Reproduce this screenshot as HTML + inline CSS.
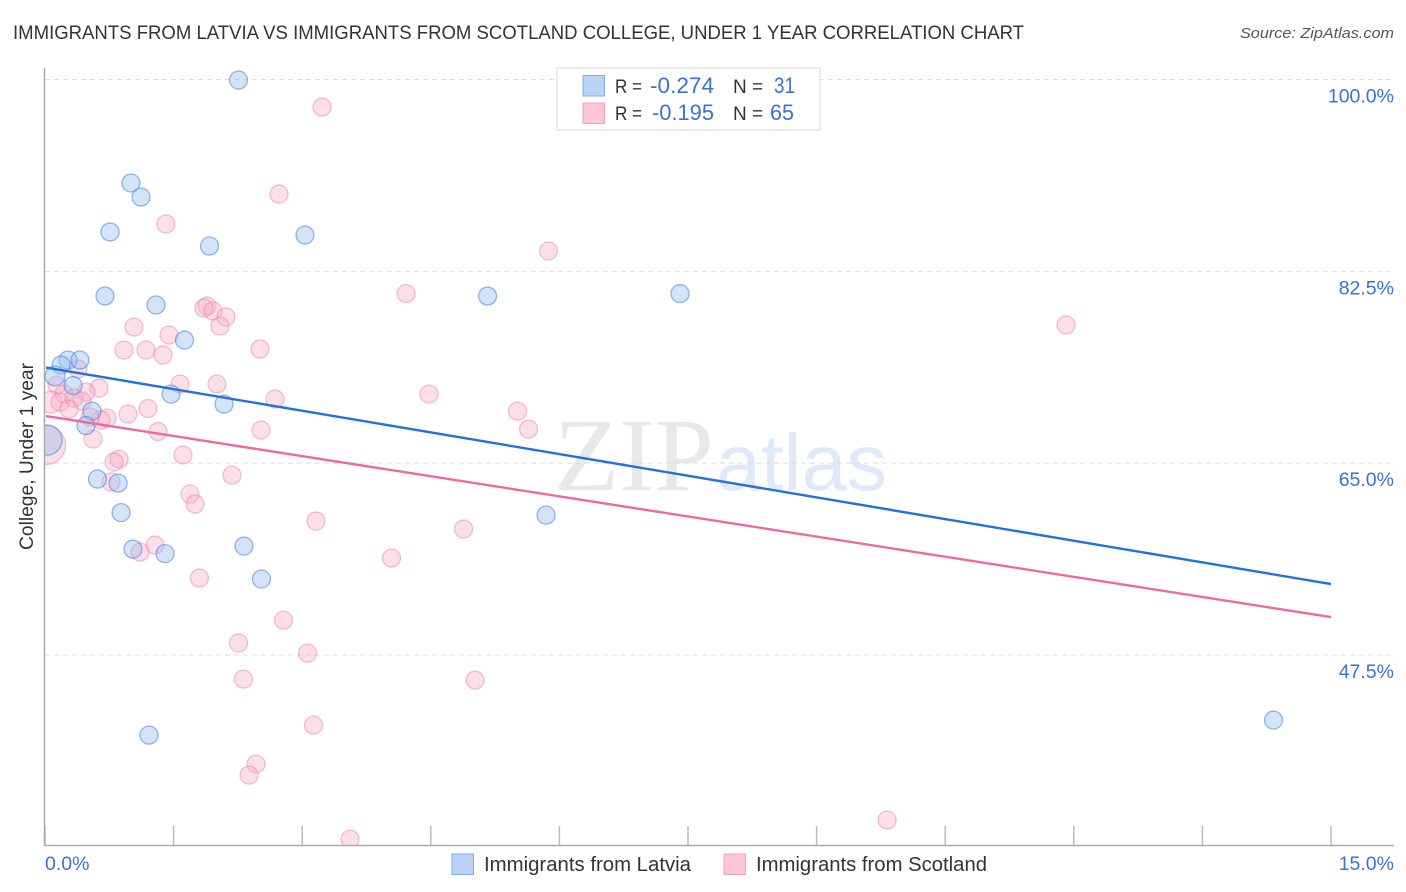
<!DOCTYPE html>
<html lang="en">
<head>
<meta charset="utf-8">
<title>Immigrants from Latvia vs Immigrants from Scotland College, Under 1 Year Correlation Chart</title>
<style>
html,body{margin:0;padding:0;background:#fff;width:1406px;height:892px;overflow:hidden}
svg{display:block}
text{font-family:"Liberation Sans",sans-serif}
</style>
</head>
<body>
<svg id="chart" xmlns="http://www.w3.org/2000/svg" width="1406" height="892" viewBox="0 0 1406 892">
  <defs>
    <clipPath id="plot-clip"><rect x="45" y="68" width="1349" height="778"/></clipPath>
  </defs>
  <text x="13" y="39" font-size="19.5" fill="#333" textLength="1011" lengthAdjust="spacingAndGlyphs">IMMIGRANTS FROM LATVIA VS IMMIGRANTS FROM SCOTLAND COLLEGE, UNDER 1 YEAR CORRELATION CHART</text>
  <text x="1394" y="38" font-size="15" font-style="italic" fill="#555" text-anchor="end" textLength="154" lengthAdjust="spacingAndGlyphs">Source: ZipAtlas.com</text>

  <g id="watermark">
    <text x="554" y="490" font-size="104" fill="#e8e8e8" style="font-family:'Liberation Serif',serif" textLength="160" lengthAdjust="spacingAndGlyphs">ZIP</text>
    <text x="716" y="490" font-size="80" fill="#dfe9f9" style="font-family:'Liberation Sans',sans-serif" textLength="171" lengthAdjust="spacingAndGlyphs">atlas</text>
  </g>

  <g id="grid"></g>
  <g id="marks" clip-path="url(#plot-clip)"></g>
  <rect x="0" y="60" width="44" height="800" fill="#fff"/>
  <rect x="0" y="846.5" width="1406" height="45.5" fill="#fff"/>
  <g id="trends"></g>
  <g id="axes"></g>

  <text transform="translate(33,550) rotate(-90)" font-size="19" fill="#333" textLength="187" lengthAdjust="spacingAndGlyphs">College, Under 1 year</text>

  <g>
    <rect x="557" y="68" width="263" height="62" fill="#fff" stroke="#d8d8d8" stroke-width="1"/>
    <rect x="583" y="75.5" width="21.5" height="20.5" fill="#b9d3f6" stroke="#7fabe8" stroke-width="1"/>
    <rect x="583" y="103" width="21.5" height="20.5" fill="#fcc6d8" stroke="#f0a0bc" stroke-width="1"/>
    <text x="615" y="93" font-size="19" fill="#333" textLength="27" lengthAdjust="spacingAndGlyphs">R =</text>
    <text x="650" y="93" font-size="22" fill="#3a73d0" textLength="64" lengthAdjust="spacingAndGlyphs">-0.274</text>
    <text x="733" y="93" font-size="19" fill="#333">N =</text>
    <text x="774" y="93" font-size="22" fill="#3a73d0" textLength="21" lengthAdjust="spacingAndGlyphs">31</text>
    <text x="615" y="120" font-size="19" fill="#333" textLength="27" lengthAdjust="spacingAndGlyphs">R =</text>
    <text x="652" y="120" font-size="22" fill="#3a73d0" textLength="62" lengthAdjust="spacingAndGlyphs">-0.195</text>
    <text x="733" y="120" font-size="19" fill="#333">N =</text>
    <text x="770" y="120" font-size="22" fill="#3a73d0" textLength="24" lengthAdjust="spacingAndGlyphs">65</text>
  </g>

  <g>
    <rect x="452" y="854" width="21.5" height="20.5" fill="#b9d3f6" stroke="#7fabe8" stroke-width="1"/>
    <text x="484" y="871" font-size="20" fill="#333" textLength="207" lengthAdjust="spacingAndGlyphs">Immigrants from Latvia</text>
    <rect x="724" y="854" width="21.5" height="20.5" fill="#fcc6d8" stroke="#f0a0bc" stroke-width="1"/>
    <text x="756" y="871" font-size="20" fill="#333" textLength="231" lengthAdjust="spacingAndGlyphs">Immigrants from Scotland</text>
  </g>
</svg>
<script>
const yGridValues = [100, 82.5, 65, 47.5];
const yTickLabels = ["100.0%", "82.5%", "65.0%", "47.5%"];
const xTickValues = [0, 1.5, 3, 4.5, 6, 7.5, 9, 10.5, 12, 13.5, 15];
const xEndLabels = ["0.0%", "15.0%"];

const latviaX = [2.257,1.003,1.120,0.758,1.919,3.033,0.700,1.295,5.162,7.407,1.627,0.268,0.408,0.187,0.117,0.327,1.470,2.088,0.548,0.478,0.023,0.612,0.852,0.887,1.026,1.400,2.321,2.525,5.844,1.213,14.330];
const latviaY = [99.95,90.56,89.28,86.09,84.81,85.81,80.25,79.43,80.25,80.47,76.23,74.41,74.41,73.95,72.95,72.08,71.30,70.39,69.75,68.43,67.11,63.55,63.18,60.49,57.16,56.75,57.44,54.43,60.26,40.19,41.56];
const latviaWeight = [1,1,1,1,1,1,1,1,1,1,1,1,1,1,1.2,1,1,1,1,1,2.8,1,1,1,1,1,1,1,1,1,1];

const scotlandX = [3.231,2.730,1.411,5.873,4.211,11.910,1.890,1.855,1.960,2.111,2.041,1.038,1.446,0.921,1.178,1.376,2.508,0.385,1.575,2.006,0.140,0.630,0.478,0.222,4.479,2.683,0.070,0.175,0.338,0.432,1.201,5.512,0.280,0.968,0.723,0.653,0.525,5.640,2.520,1.318,0.560,0.012,1.610,0.863,0.805,2.181,0.770,1.691,1.750,3.161,4.882,1.283,1.108,4.042,1.802,2.782,2.257,3.062,2.315,5.016,3.132,2.461,2.380,9.822,3.558];
const scotlandY = [97.49,89.55,86.82,84.35,80.47,77.60,79.33,79.15,78.88,78.33,77.51,77.42,76.69,75.32,75.32,74.86,75.41,73.59,72.22,72.22,72.13,71.85,71.49,71.30,71.30,70.85,70.57,70.57,70.94,70.67,69.98,69.75,69.94,69.48,69.11,68.93,69.21,68.11,68.02,67.88,67.20,66.65,65.74,65.37,65.10,63.91,63.28,62.18,61.27,59.72,58.99,57.53,56.89,56.34,54.52,50.68,48.59,47.67,45.30,45.21,41.10,37.55,36.54,32.44,30.70];
const scotlandWeight = [1,1,1,1,1,1,1,1,1,1,1,1,1,1,1,1,1,1,1,1,1,1,1,1,1,1,1.5,1,1,1,1,1,1,1,1,1,1,1,1,1,1,4.7,1,1,1,1,1,1,1,1,1,1,1,1,1,1,1,1,1,1,1,1,1,1,1];

const latviaTrendX = [0, 15];
const latviaTrendY = [73.72, 53.97];
const scotlandTrendX = [0, 15];
const scotlandTrendY = [69.30, 50.96];

const SVG_NS = "http://www.w3.org/2000/svg";
function xScale(v) { return 45 + v * (1331 - 45) / 15; }
function yScale(v) { return 79.5 + (100 - v) * (655 - 79.5) / 52.5; }
function rScale(w) { return 9 * Math.sqrt(w); }
function make(tag, attrs, parent) {
  const el = document.createElementNS(SVG_NS, tag);
  for (const k in attrs) el.setAttribute(k, attrs[k]);
  parent.appendChild(el);
  return el;
}

const gridG = document.getElementById("grid");
const axesG = document.getElementById("axes");
const marksG = document.getElementById("marks");
const trendsG = document.getElementById("trends");

yGridValues.forEach(function (v, i) {
  const line = make("line", {x1: 45, x2: 1394, y1: yScale(v), y2: yScale(v), stroke: "#dcdcdc", "stroke-width": 1, "stroke-dasharray": "5 4"}, gridG);
  
  
  const label = make("text", {x: 1394, y: yScale(v) + 23, "font-size": 19.5, fill: "#3a73d0", "text-anchor": "end"}, axesG);
  
  
  label.textContent = yTickLabels[i];
});

xTickValues.forEach(function (v) {
  const tick = make("line", {x1: xScale(v), x2: xScale(v), y1: 826, y2: 846, stroke: "#bbb", "stroke-width": 1.5}, axesG);
  
  
});

const yAxis = make("line", {x1: 44.5, x2: 44.5, y1: 68, y2: 846, stroke: "#aaa", "stroke-width": 1.5}, axesG);


const xAxis = make("line", {x1: 44, x2: 1394, y1: 845.5, y2: 845.5, stroke: "#aaa", "stroke-width": 1.5}, axesG);



const xLabelLeft = make("text", {x: 45, y: 870, "font-size": 19.5, fill: "#3a73d0"}, axesG);


xLabelLeft.textContent = xEndLabels[0];
const xLabelRight = make("text", {x: 1394, y: 870, "font-size": 19.5, fill: "#3a73d0", "text-anchor": "end"}, axesG);


xLabelRight.textContent = xEndLabels[1];

scotlandX.forEach(function (v, i) {
  const c = make("circle", {cx: xScale(v), cy: yScale(scotlandY[i]), r: rScale(scotlandWeight[i]), fill: "rgba(248,170,197,0.38)", stroke: "rgba(232,125,163,0.48)", "stroke-width": 1.3}, marksG);
  
  
});
latviaX.forEach(function (v, i) {
  const c = make("circle", {cx: xScale(v), cy: yScale(latviaY[i]), r: rScale(latviaWeight[i]), fill: "rgba(150,190,240,0.42)", stroke: "rgba(70,125,215,0.55)", "stroke-width": 1.3}, marksG);
  
  
});

const latviaLine = make("line", {x1: xScale(latviaTrendX[0]) + 1, x2: xScale(latviaTrendX[1]), y1: yScale(latviaTrendY[0]), y2: yScale(latviaTrendY[1]), stroke: "#2272d9", "stroke-width": 2.4}, trendsG);


const scotlandLine = make("line", {x1: xScale(scotlandTrendX[0]) + 1, x2: xScale(scotlandTrendX[1]), y1: yScale(scotlandTrendY[0]), y2: yScale(scotlandTrendY[1]), stroke: "#ec6a9c", "stroke-width": 2.4}, trendsG);


</script>
</body>
</html>
